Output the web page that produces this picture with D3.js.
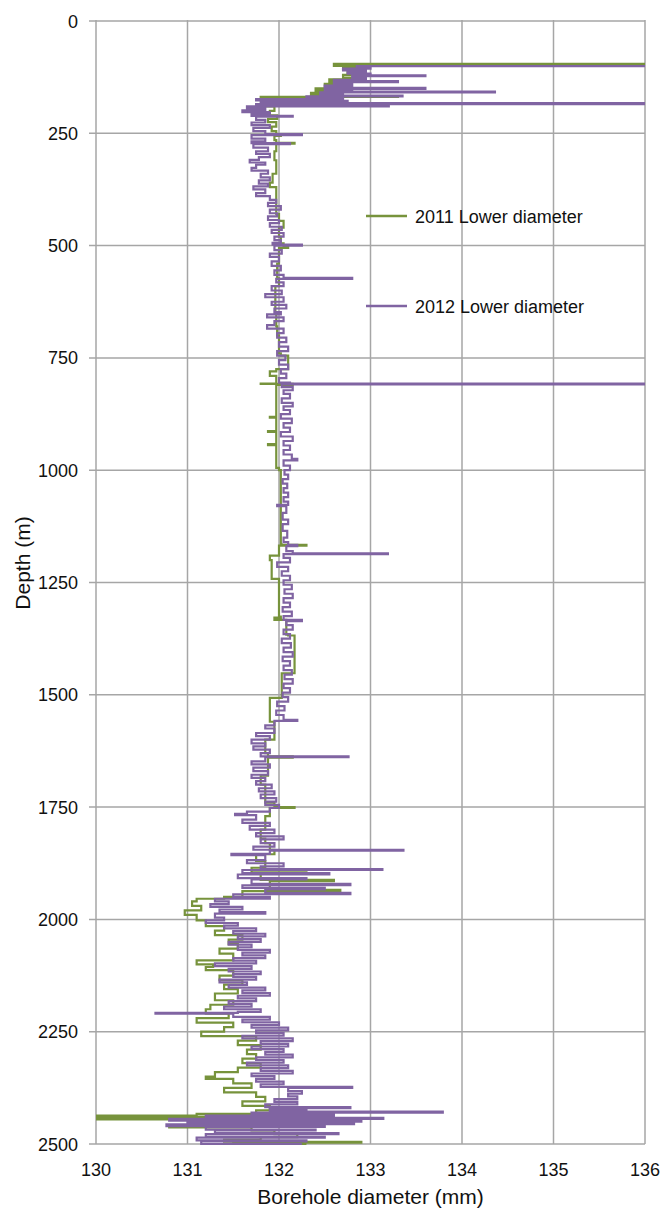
<!DOCTYPE html>
<html><head><meta charset="utf-8">
<script src="https://cdn.jsdelivr.net/npm/d3@7"></script>
<style>
body{margin:0;background:#fff}
svg{display:block}
text{font-family:"Liberation Sans",Arial,sans-serif;fill:#111}
</style>
</head><body>
<svg id="c" width="662" height="1209"></svg>
<script>
// ---- data ----
const xTicks = [130, 131, 132, 133, 134, 135, 136];
const yTicks = [0, 250, 500, 750, 1000, 1250, 1500, 1750, 2000, 2250, 2500];
const seriesNames = ["2011 Lower diameter", "2012 Lower diameter"];
const seriesColors = ["#77933c", "#8064a2"];
const xTitle = "Borehole diameter (mm)";
const yTitle = "Depth (m)";

// [depth (m), diameter (mm)]
const log2011 = [
[94,136],[95.5,132.6],[100,132.9],[104,132.7],[108,132.95],[112,132.75],[116,132.9],[120,132.7],[126,132.85],
[130,132.55],[135,132.75],[140,132.5],[146,132.6],[150,132.4],[155,132.55],[160,132.35],[164,132.5],[167,133.3],
[169,131.8],[172,132.2],[175,131.9],[180,132.0],[185,131.85],[190,131.95],[200,131.9],[210,131.98],[218,131.88],
[225,131.97],[235,131.92],[245,131.97],[252,132.02],[256,131.95],[265,131.97],[271,132.17],[273,131.97],[290,131.95],
[310,131.97],[340,131.93],[360,131.9],[370,131.97],[400,131.97],[430,132.0],[445,132.05],[460,132.0],[480,132.02],
[495,132.05],[500,132.1],[505,132.0],[540,131.98],[560,131.98],[573,132.0],[590,131.96],[620,131.96],[650,131.97],
[680,131.98],[700,132.0],[740,132.02],[745,132.1],[772,132.1],[775,131.97],[780,131.9],[790,131.97],[805,131.97],
[807,131.8],[808,132.15],[810,131.97],[880,131.97],[881,131.9],[883,131.97],[912,131.97],[913,131.88],[915,131.97],
[941,131.97],[942,131.88],[944,131.97],[993,131.97],[995,132.0],[1000,132.02],[1100,132.02],[1165,132.03],
[1166,132.3],[1168,132.0],[1185,132.0],[1190,131.9],[1200,131.92],[1240,131.92],[1242,132.0],[1326,132.02],
[1328,131.95],[1333,132.08],[1366,132.1],[1368,132.17],[1450,132.17],[1452,132.03],[1505,132.03],[1507,131.9],
[1556,131.9],[1560,131.95],[1600,131.85],[1630,131.88],[1637,132.15],[1640,131.88],[1680,131.8],[1700,131.85],
[1740,131.95],[1750,132.17],[1752,131.9],[1770,131.85],[1800,131.8],[1820,131.85],[1830,131.9],[1845,131.95],
[1855,131.75],[1870,131.85],[1885,131.7],[1895,132.3],[1898,131.8],[1912,132.6],[1915,131.9],[1934,132.67],
[1937,131.6],[1950,131.4],[1954,131.1],[1960,131.05],[1970,131.15],[1980,130.97],[1990,131.1],[2002,131.2],
[2015,131.4],[2025,131.3],[2035,131.6],[2045,131.45],[2055,131.55],[2065,131.35],[2076,131.5],[2091,131.1],
[2100,131.28],[2106,131.2],[2113,131.5],[2125,131.35],[2135,131.6],[2145,131.4],[2155,131.55],[2165,131.3],
[2180,131.5],[2190,131.25],[2200,131.2],[2210,131.45],[2220,131.1],[2230,131.5],[2240,131.4],[2250,131.15],
[2260,131.75],[2270,131.55],[2280,131.8],[2290,131.65],[2300,131.75],[2310,131.6],[2320,131.8],[2330,131.55],
[2340,131.3],[2350,131.2],[2355,131.5],[2365,131.7],[2375,131.4],[2385,131.75],[2395,131.85],[2405,131.6],
[2415,131.9],[2425,131.75],[2433,131.1],[2437,130.0],[2439,131.9],[2443,130.0],[2445,131.3],[2452,131.8],
[2461,130.8],[2463,131.7],[2470,131.95],[2478,132.2],[2485,131.8],[2490,131.4],[2495,132.9],[2497,131.5],[2500,132.3]
];

const log2012 = [
[99,136],[100.5,132.85],[103,133.0],[106,132.7],[110,132.95],[113,132.75],[117,133.0],[120,132.8],[121,133.6],
[123,132.8],[127,132.95],[131,132.6],[134,133.3],[136,132.6],[140,132.8],[144,132.5],[149,133.6],[151,132.5],
[154,132.8],[157,134.36],[159,132.45],[163,132.7],[166,133.35],[168,132.3],[171,132.7],[174,131.75],[177,132.5],
[178,132.75],[181,131.8],[183,136],[185,131.75],[188,133.2],[190,131.65],[195,131.85],[199,131.6],[203,131.9],
[207,131.7],[211,132.15],[213,131.75],[220,131.85],[226,131.7],[232,131.9],[238,131.72],[245,131.85],[252,132.25],
[254,131.7],[262,131.85],[268,131.7],[272,132.12],[274,131.72],[282,131.88],[290,131.75],[296,131.9],[303,131.78],
[309,131.68],[315,131.85],[320,131.75],[327,131.7],[333,131.88],[340,131.8],[348,131.9],[355,131.78],[362,131.88],
[368,131.72],[375,131.85],[383,131.75],[390,131.9],[398,131.97],[405,131.88],[412,132.02],[420,131.9],[428,131.98],
[435,131.88],[443,132.0],[450,131.9],[458,132.03],[465,131.92],[472,132.05],[480,131.95],[488,132.02],[494,131.93],
[498,132.25],[500,131.95],[510,132.03],[518,131.9],[525,132.0],[535,131.92],[545,132.02],[555,131.95],[565,132.05],
[572,132.8],[574,131.97],[582,132.05],[590,131.92],[600,132.03],[608,131.85],[615,132.05],[625,131.92],[632,132.08],
[640,131.95],[648,132.02],[653,131.87],[660,132.05],[668,131.95],[677,131.87],[685,132.05],[695,131.98],[705,132.08],
[715,132.0],[725,132.1],[735,131.98],[745,132.07],[755,132.0],[765,132.1],[775,132.02],[785,132.08],[795,132.0],
[805,132.12],[807,136],[809,132.03],[815,132.15],[822,132.05],[830,132.12],[840,132.03],[850,132.15],[858,132.05],
[866,132.12],[875,132.02],[885,132.14],[895,132.05],[905,132.12],[915,132.02],[925,132.15],[935,132.05],[945,132.12],
[955,132.05],[965,132.14],[975,132.2],[978,132.05],[990,132.12],[1000,132.06],[1010,132.1],[1020,132.04],[1030,132.09],
[1040,132.05],[1050,132.1],[1060,132.05],[1070,132.1],[1077,131.98],[1080,132.08],[1095,132.04],[1110,132.1],
[1120,132.04],[1135,132.09],[1150,132.05],[1160,132.1],[1166,132.2],[1169,132.08],[1180,132.15],[1185,133.19],
[1187,132.05],[1195,132.12],[1205,131.98],[1215,132.1],[1225,132.03],[1235,132.12],[1245,132.05],[1255,132.14],
[1265,132.06],[1275,132.15],[1285,132.05],[1295,132.12],[1305,132.04],[1315,132.14],[1325,132.05],[1333,132.25],
[1336,132.08],[1345,132.15],[1355,132.05],[1365,132.12],[1375,132.03],[1385,132.13],[1395,132.05],[1405,132.15],
[1415,132.04],[1425,132.12],[1435,132.05],[1445,132.14],[1455,132.06],[1465,132.15],[1475,132.05],[1485,132.12],
[1495,132.04],[1505,132.1],[1515,131.98],[1525,132.06],[1535,131.97],[1545,132.05],[1556,132.2],[1558,131.95],
[1568,131.85],[1575,131.95],[1585,131.75],[1592,131.9],[1600,131.7],[1608,131.85],[1615,131.72],[1622,131.9],
[1630,131.8],[1637,132.76],[1639,131.85],[1648,131.7],[1655,131.9],[1662,131.72],[1670,131.88],[1678,131.7],
[1685,131.85],[1692,131.75],[1700,131.92],[1708,131.78],[1715,131.95],[1722,131.8],[1730,131.97],[1738,131.85],
[1745,132.0],[1752,131.9],[1760,131.65],[1765,131.52],[1768,131.75],[1778,131.6],[1785,131.9],[1792,131.68],
[1800,131.95],[1808,131.75],[1815,132.05],[1822,131.8],[1830,131.95],[1838,131.72],[1845,133.36],[1847,131.9],
[1854,131.48],[1857,131.85],[1868,131.65],[1875,132.05],[1882,131.8],[1888,133.13],[1890,131.6],[1897,132.55],
[1900,131.55],[1908,132.3],[1911,131.7],[1921,132.78],[1924,131.6],[1930,132.5],[1933,131.85],[1941,132.78],
[1944,131.5],[1950,131.9],[1954,131.3],[1960,131.45],[1966,131.25],[1972,131.6],[1978,131.35],[1984,131.85],
[1987,131.3],[1996,131.4],[2002,131.2],[2008,131.55],[2014,131.4],[2020,131.75],[2026,131.5],[2032,131.85],
[2038,131.55],[2044,131.8],[2050,131.45],[2056,131.7],[2062,131.55],[2068,131.9],[2074,131.6],[2080,131.85],
[2086,131.5],[2092,131.75],[2098,131.3],[2104,131.7],[2110,131.45],[2116,131.8],[2122,131.5],[2128,131.75],
[2134,131.35],[2140,131.65],[2146,131.45],[2152,131.85],[2158,131.6],[2164,131.9],[2170,131.55],[2176,131.75],
[2182,131.45],[2188,131.7],[2194,131.4],[2200,131.8],[2206,131.55],[2208,130.65],[2210,131.5],[2217,131.9],
[2223,131.6],[2229,132.0],[2235,131.7],[2241,132.1],[2247,131.75],[2253,132.05],[2259,131.6],[2265,132.15],
[2271,131.8],[2277,132.1],[2283,131.7],[2289,132.05],[2295,131.85],[2301,132.15],[2307,131.75],[2313,132.05],
[2319,131.65],[2325,132.1],[2331,131.8],[2337,132.15],[2343,131.7],[2349,131.95],[2355,131.75],[2361,132.05],
[2367,131.8],[2373,132.8],[2375,132.1],[2382,132.25],[2388,132.1],[2394,132.2],[2400,131.95],[2406,132.2],
[2412,131.85],[2418,132.78],[2420,131.9],[2425,132.3],[2428,133.79],[2430,131.7],[2435,132.6],[2437,131.2],
[2442,133.14],[2444,130.8],[2448,132.9],[2450,131.0],[2454,132.82],[2456,130.77],[2460,132.5],[2462,131.2],
[2468,132.4],[2470,131.3],[2476,132.65],[2478,131.2],[2484,132.5],[2486,131.1],[2492,132.3],[2494,131.15],[2500,132.25]
];

// ---- layout ----
const svg = d3.select("#c");
const x = d3.scaleLinear().domain([130, 136]).range([96, 645]);
const y = d3.scaleLinear().domain([0, 2500]).range([21, 1144]);
const gridColor = "#a6a6a6";

// grid
const g = svg.append("g");
g.selectAll("line.v").data(xTicks).join("line")
  .attr("x1", d => x(d)).attr("x2", d => x(d))
  .attr("y1", y(0) - 1).attr("y2", y(2500))
  .attr("stroke", gridColor).attr("stroke-width", 1.5);
g.selectAll("line.h").data(yTicks).join("line")
  .attr("x1", x(130) - 7).attr("x2", x(136))
  .attr("y1", d => y(d)).attr("y2", d => y(d))
  .attr("stroke", gridColor).attr("stroke-width", 1.5);

// tick labels
svg.append("g").selectAll("text").data(yTicks).join("text")
  .attr("x", x(130) - 18).attr("y", d => y(d) + 6.5)
  .attr("text-anchor", "end").attr("font-size", 18).text(d => d);
svg.append("g").selectAll("text").data(xTicks).join("text")
  .attr("x", d => x(d)).attr("y", 1176)
  .attr("text-anchor", "middle").attr("font-size", 18).text(d => d);

// titles
svg.append("text").attr("x", (x(130) + x(136)) / 2).attr("y", 1204)
  .attr("text-anchor", "middle").attr("font-size", 21).text(xTitle);
svg.append("text").attr("transform", "translate(29.5,563) rotate(-90)")
  .attr("text-anchor", "middle").attr("font-size", 21).text(yTitle);

// clip
svg.append("clipPath").attr("id", "plot").append("rect")
  .attr("x", x(130)).attr("y", y(0)).attr("width", x(136) - x(130)).attr("height", y(2500) - y(0) + 1);

const line = d3.line().x(d => x(d[1])).y(d => y(d[0])).curve(d3.curveStepBefore);
const data = [log2011, log2012];
svg.append("g").attr("clip-path", "url(#plot)").selectAll("path").data(data).join("path")
  .attr("d", line).attr("fill", "none")
  .attr("stroke", (d, i) => seriesColors[i]).attr("stroke-width", 2.2)
  .attr("stroke-linejoin", "miter");

// legend
const legY = [216, 306];
const leg = svg.append("g").selectAll("g").data(seriesNames).join("g")
  .attr("transform", (d, i) => `translate(0,${legY[i]})`);
leg.append("line").attr("x1", 366).attr("x2", 407).attr("y1", 0).attr("y2", 0)
  .attr("stroke", (d, i) => seriesColors[i]).attr("stroke-width", 2.5);
leg.append("text").attr("x", 415).attr("y", 6.5).attr("font-size", 18).text(d => d);
</script>
</body></html>
